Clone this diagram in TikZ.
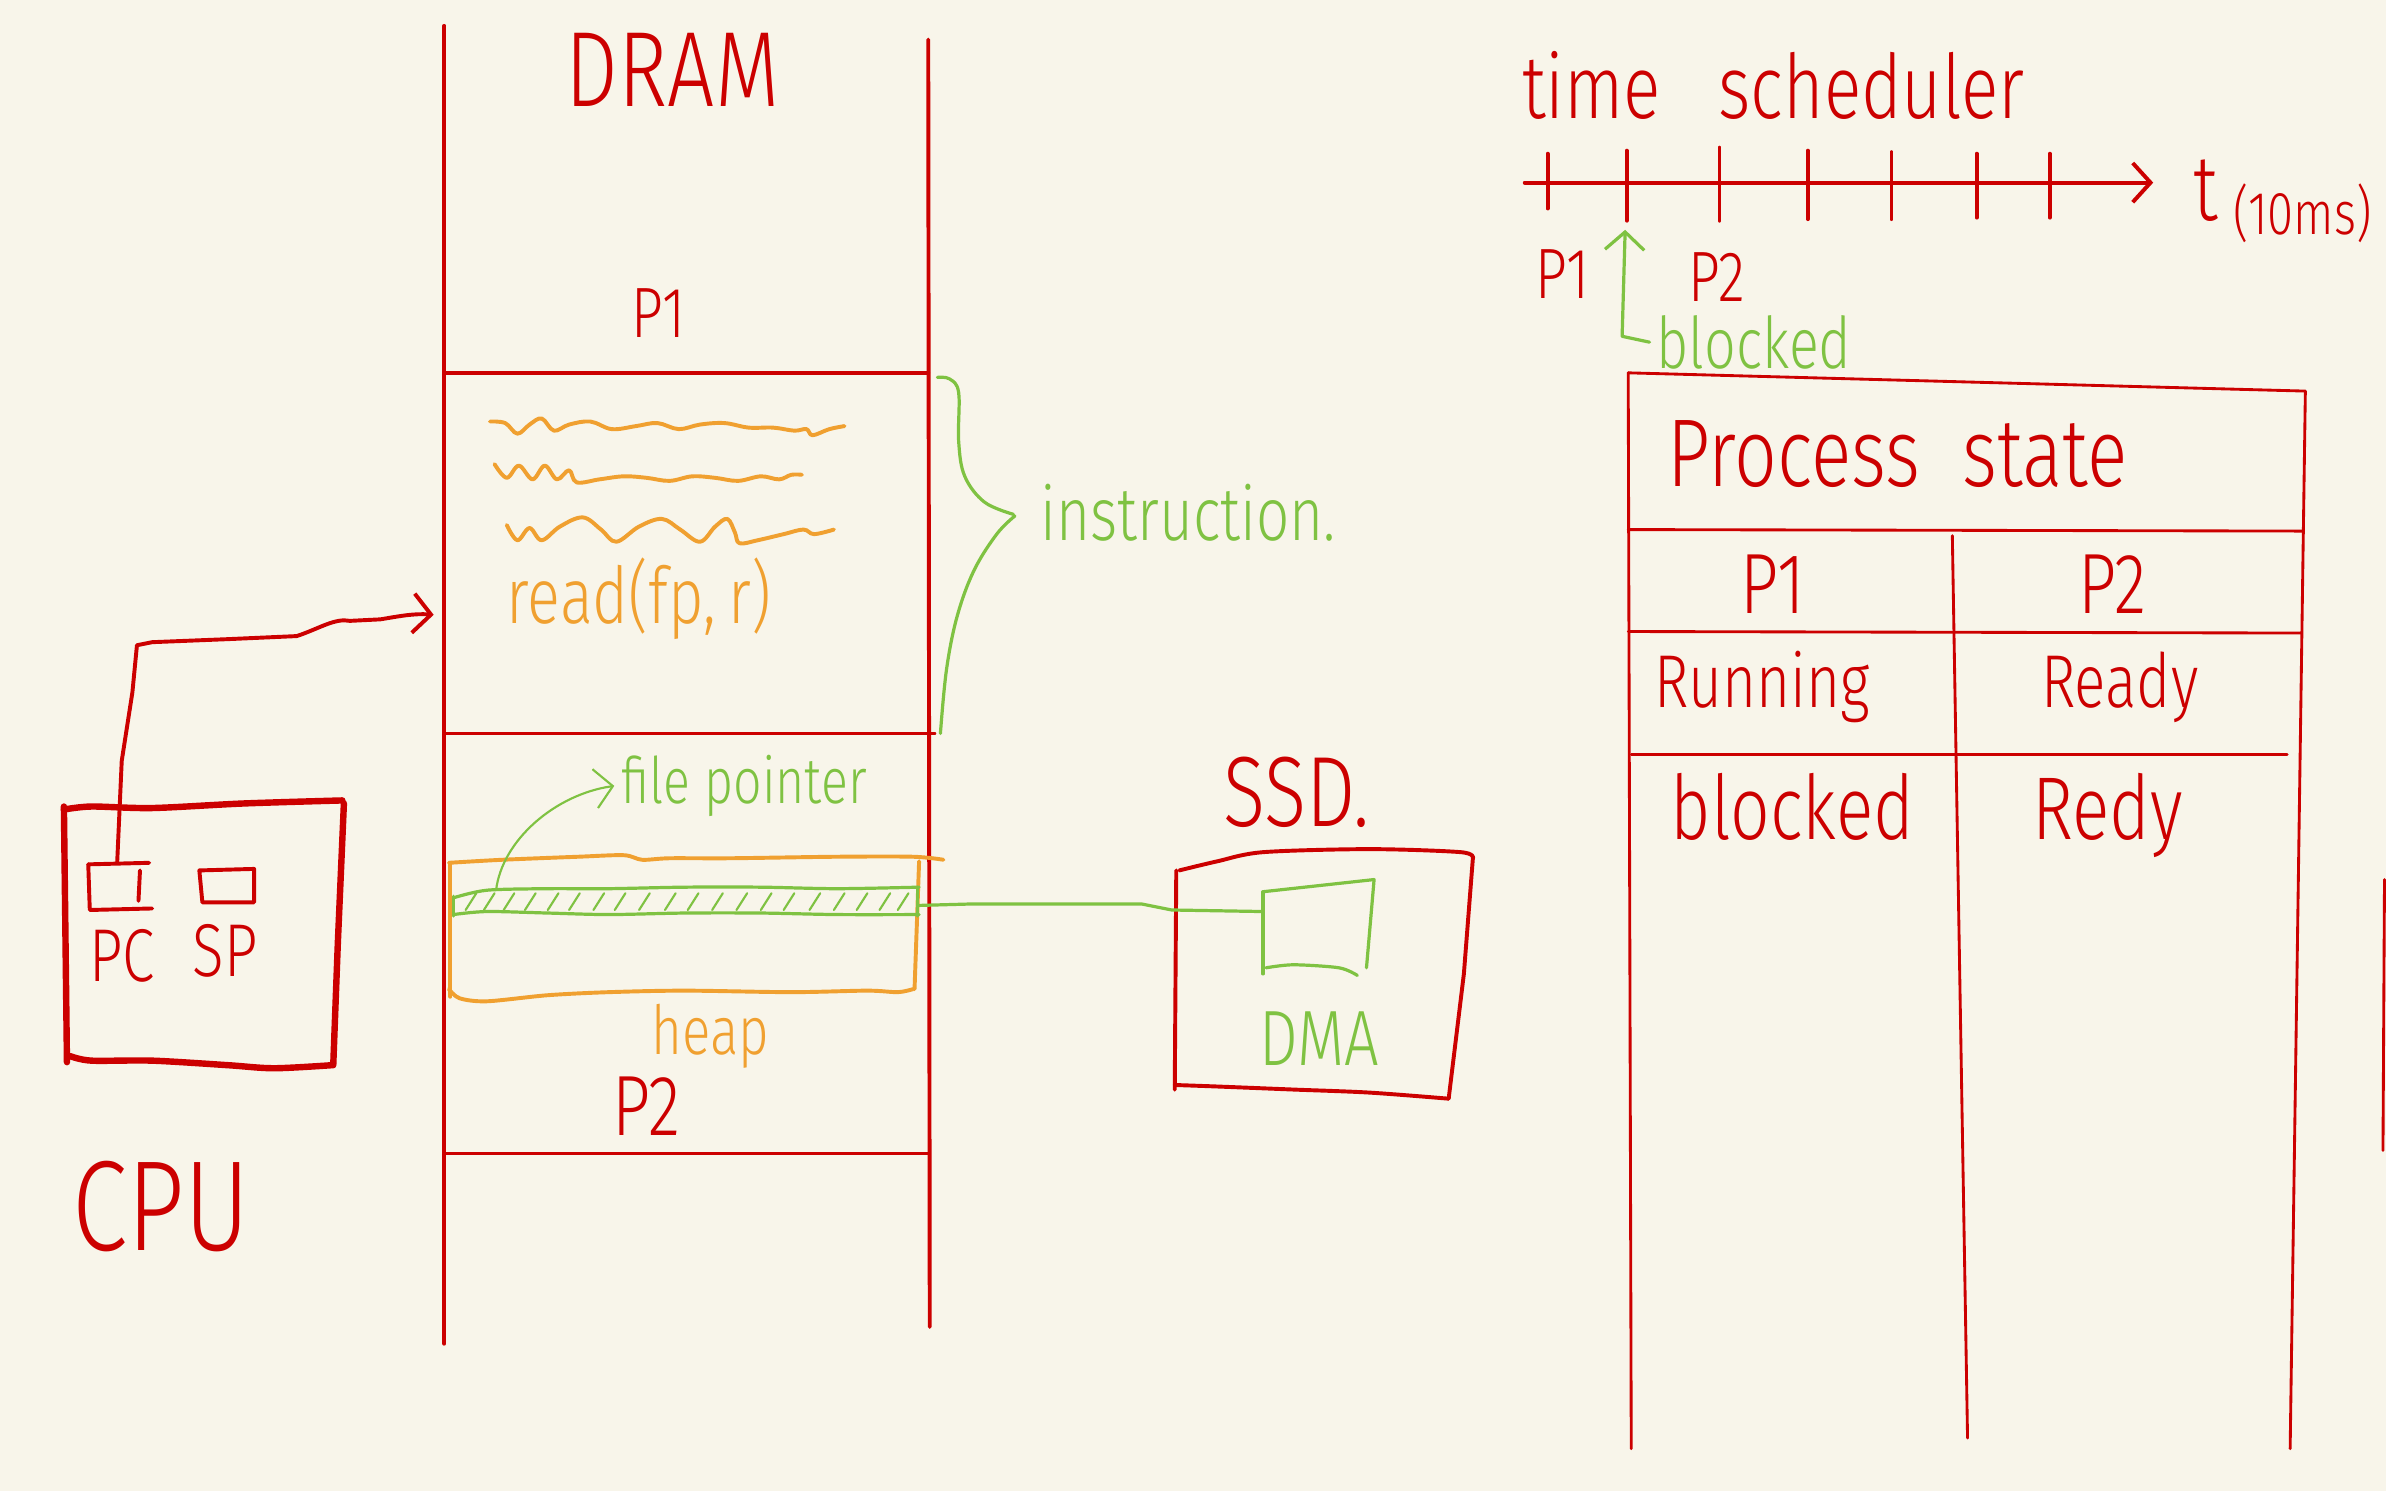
\documentclass[tikz,border=0pt]{standalone}
\usepackage{fontspec}
\setmainfont{Fira Sans Light}[FakeStretch=0.78]
\usetikzlibrary{arrows.meta}
\definecolor{bg}{HTML}{F8F5EA}
\definecolor{ink}{HTML}{CC0000}
\definecolor{org}{HTML}{F0A030}
\definecolor{grn}{HTML}{7FC242}
\newcommand{\fs}[1]{\fontsize{#1}{#1}\selectfont}
\begin{document}
\begin{tikzpicture}[x=0.015cm,y=-0.015cm,line cap=round,line join=round,
  redl/.style={draw=ink,line width=1.1pt},
  redthick/.style={draw=ink,line width=1.8pt},
  redthin/.style={draw=ink,line width=0.8pt},
  orgl/.style={draw=org,line width=1.1pt},
  grnl/.style={draw=grn,line width=0.9pt},
  grnthin/.style={draw=grn,line width=0.6pt},
  lbl/.style={inner sep=0pt,outer sep=2pt,anchor=base},
  redtxt/.style={lbl,text=ink},
  orgtxt/.style={lbl,text=org},
  grntxt/.style={lbl,text=grn},
  barb/.style={-{Straight Barb[length=5pt,width=11pt]}}
]
\fill[bg] (0,0) rectangle (1568,980);
\useasboundingbox (0,0) rectangle (1568,980);

% ---------------- DRAM ----------------
\draw[redl] (292,17) -- (292,883);
\draw[redl] (610,26) -- (611,872);
\draw[redl] (292,245) -- (610,245);
\draw[redl] (292,482) -- (614,482);
\draw[redl] (292,758) -- (610,758);
\node[redtxt,font=\fs{30}] (dram) at (442,70) {DRAM};
\node[redtxt,font=\fs{20}] (dp1) at (433,222) {P1};
\node[redtxt,font=\fs{24}] (dp2) at (425,746) {P2};

% instruction squiggles
\draw[orgl] plot[smooth,tension=0.6] coordinates {(322,277)(332,278)(340,285)(348,279)(356,275)(364,283)(374,279)(388,277)(402,282)(418,280)(432,278)(446,282)(460,279)(476,278)(492,281)(508,281)(522,283)(530,282)(534,286)(545,282)(555,280)};
\draw[orgl] plot[smooth,tension=0.6] coordinates {(325,305)(333,314)(341,306)(350,315)(358,306)(366,315)(374,309)(379,317)(394,315)(410,313)(425,314)(440,316)(455,313)(470,314)(485,316)(500,313)(512,315)(520,312)(527,312)};
\draw[orgl] plot[smooth,tension=0.6] coordinates {(333,345)(340,355)(348,347)(356,355)(368,346)(383,340)(395,348)(405,356)(420,346)(435,341)(447,348)(460,356)(470,346)(478,341)(483,350)(486,357)(498,355)(515,351)(528,348)(535,351)(548,348)};
\node[orgtxt,font=\fs{22}] (readcall) at (420,410) {read(fp,\,r)};

% brace + instruction
\draw[grnl] plot[smooth,tension=0.6] coordinates {(616,248)(624,249)(630,258)(630,290)(634,313)(647,330)(666,338)};
\draw[grnl] plot[smooth,tension=0.6] coordinates {(667,339)(655,351)(640,375)(629,405)(622,440)(618,482)};
\node[grntxt,font=\fs{21}] (instr) at (781,355) {instruction.};

% heap block
\draw[orgl] plot[smooth,tension=0.5] coordinates {(295,567)(330,565)(380,563)(410,562)(422,565)(440,564)(480,564)(550,563)(600,563)(620,565)};
\draw[orgl] (296,567) -- (296,655);
\draw[orgl] plot[smooth,tension=0.5] coordinates {(295,650)(302,656)(320,658)(360,654)(400,652)(450,651)(520,652)(570,651)(590,652)(600,650)};
\draw[orgl] (604,566) -- (601,650);
\node[orgtxt,font=\fs{19}] (heap) at (467,693) {heap};

% file pointer band (hatched)
\draw[grnl] plot[smooth,tension=0.5] coordinates {(298,590)(320,585)(360,584)(400,584)(450,583)(500,583)(550,584)(604,583)};
\draw[grnl] plot[smooth,tension=0.5] coordinates {(298,601)(320,599)(360,600)(400,601)(450,600)(500,600)(550,601)(604,601)};
\draw[grnl] (298,589) -- (298,602);
\draw[grnl] (603,583) -- (603,602);
\foreach \hx in {306,318,331,345,360,374,390,404,420,437,452,468,484,500,515,532,548,563,578,590}
  \draw[grnthin] (\hx,598) -- (\hx+7,587);
\coordinate (bandtop) at (326,585);
\coordinate (bandend) at (604,595);
\node[grntxt,font=\fs{18}] (fptr) at (489,528) {file pointer};
\draw[grnthin,barb] (bandtop) .. controls (330,552) and (365,522) .. (fptr.west);

% ---------------- SSD ----------------
\node[redtxt,font=\fs{28}] (ssd) at (852,543) {SSD.};
\draw[redl] plot[smooth,tension=0.5] coordinates {(775,572)(800,566)(830,560)(900,558)(960,560)(968,564)};
\draw[redl] (968,563) -- (962,640) -- (952,722);
\draw[redl] plot[smooth,tension=0.5] coordinates {(772,713)(800,714)(850,716)(900,718)(952,722)};
\draw[redl] (773,572) -- (772,716);
% DMA buffer
\draw[grnl] (830,586) -- (830,640);
\draw[grnl] (830,586) -- (903,578) -- (898,636);
\draw[grnl] plot[smooth,tension=0.5] coordinates {(832,636)(850,634)(880,636)(892,641)};
\coordinate (dmain) at (829,599);
\node[grntxt,font=\fs{22}] (dma) at (867,700) {DMA};
\draw[grnl] (bandend) -- (640,594) -- (750,594) -- (770,598) -- (dmain);

% ---------------- CPU ----------------
\draw[redthick] plot[smooth,tension=0.5] coordinates {(42,532)(60,530)(100,531)(160,528)(225,526)};
\draw[redthick] (42,530) -- (44,698);
\draw[redthick] plot[smooth,tension=0.5] coordinates {(46,694)(60,697)(100,697)(150,700)(180,702)(218,700)};
\draw[redthick] (226,528) -- (222,620) -- (219,700);
% registers
\draw[redl] (58,568) -- (59,598) -- (100,597);
\draw[redl] (58,568) -- (98,567);
\draw[redl] (92,572) -- (91,592);
\draw[redl] (131,572) -- (167,571) -- (167,593) -- (133,593) -- cycle;
\coordinate (pcreg) at (77,567);
\node[redtxt,font=\fs{21}] (pc) at (80,645) {PC};
\node[redtxt,font=\fs{21}] (sp) at (148,642) {SP};
\node[redtxt,font=\fs{36}] (cpu) at (106,822) {CPU};
\coordinate (dramin) at (285,404);
\draw[redl,barb] (pcreg) -- (80,500) -- (87,455) -- (90,424) -- (100,422) -- (150,420) -- (195,418)
   .. controls (210,413) and (220,406) .. (230,408) -- (250,407) .. controls (262,405) and (272,403) .. (dramin);

% ---------------- time scheduler ----------------
\node[redtxt,font=\fs{25}] (timew) at (1046,78) {time};
\node[redtxt,font=\fs{25}] (sched) at (1230,78) {scheduler};
\coordinate (axs) at (1002,120);
\coordinate (axe) at (1415,120);
\draw[redl,barb] (axs) -- (axe);
\draw[redl] (1017,101) -- (1017,137);
\draw[redl] (1069,99) -- (1069,145);
\draw[redl] (1130,97) -- (1130,145);
\draw[redl] (1188,99) -- (1188,144);
\draw[redl] (1243,100) -- (1243,144);
\draw[redl] (1299,101) -- (1299,143);
\draw[redl] (1347,101) -- (1347,143);
\node[redtxt,font=\fs{26},anchor=base west] (tlab) at (1437,145) {t\,\raisebox{-4pt}{\fs{17}(10ms)}};
\node[redtxt,font=\fs{20}] (sp1) at (1027,196) {P1};
\node[redtxt,font=\fs{20}] (sp2) at (1128,198) {P2};
\node[grntxt,font=\fs{20},anchor=base west] (blk) at (1084,242) {blocked};
\coordinate (tick2) at (1068,151);
\draw[grnl,barb] (blk.west) -- (1066,221) -- (tick2);

% ---------------- Process state table ----------------
\draw[redthin] (1070,245) -- (1515,257);
\draw[redthin] (1070,245) -- (1072,952);
\draw[redthin] (1515,257) -- (1505,952);
\draw[redthin] (1283,352) -- (1293,945);
\draw[redthin] (1070,348) -- (1513,349);
\draw[redthin] (1070,415) -- (1512,416);
\draw[redthin] (1072,496) -- (1503,496);
\draw[redthin] (1567,578) -- (1566,756);
\node[redtxt,font=\fs{27}] (pstate) at (1247,320) {Process\ \ state};
\node[redtxt,font=\fs{24}] (tp1) at (1165,403) {P1};
\node[redtxt,font=\fs{24}] (tp2) at (1388,403) {P2};
\node[redtxt,font=\fs{21}] (run) at (1158,465) {Running};
\node[redtxt,font=\fs{21}] (rdy1) at (1393,465) {Ready};
\node[redtxt,font=\fs{25}] (tblk) at (1178,552) {blocked};
\node[redtxt,font=\fs{25}] (rdy2) at (1385,552) {Redy};
\end{tikzpicture}
\end{document}
